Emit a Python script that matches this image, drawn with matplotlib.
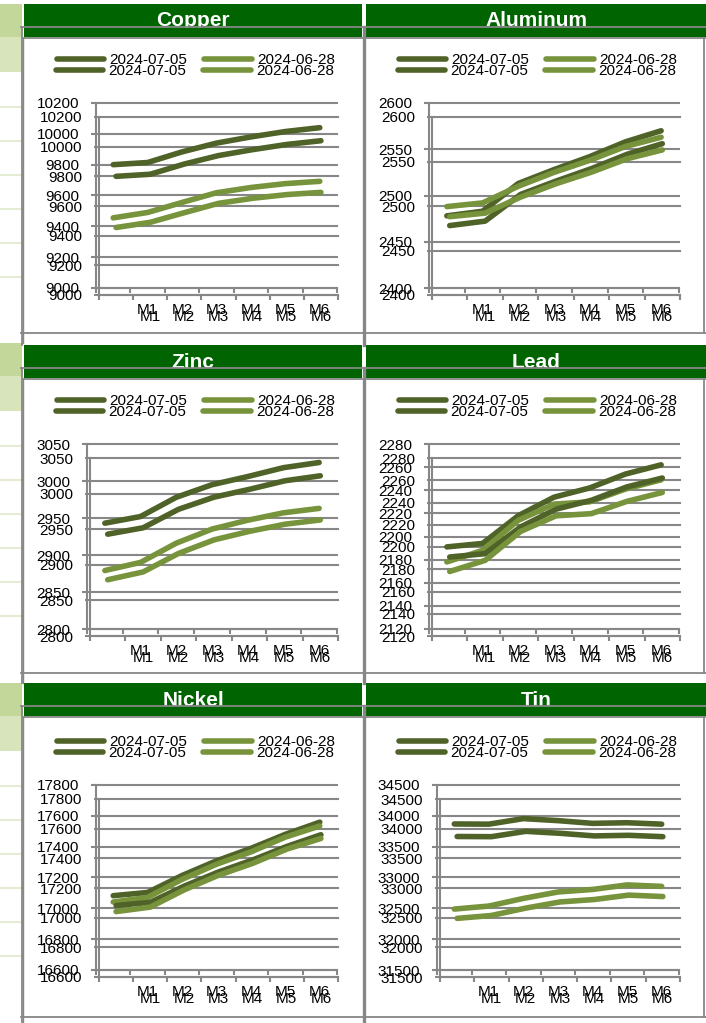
import matplotlib
matplotlib.use("Agg")
import matplotlib.pyplot as plt
from matplotlib.patches import Rectangle

plt.rcParams["font.family"] = ["Liberation Sans", "DejaVu Sans"]

W, H = 706, 1023

months = ["", "M1", "M2", "M3", "M4", "M5", "M6"]
series_names = ["2024-07-05", "2024-06-28"]

copper_0705 = [9800, 9814, 9883, 9940, 9980, 10015, 10040]
copper_0628 = [9455, 9490, 9555, 9618, 9652, 9677, 9692]
aluminum_0705 = [2478, 2483, 2513, 2528, 2542, 2558, 2570]
aluminum_0628 = [2488, 2492, 2510, 2525, 2538, 2553, 2563]
zinc_0705 = [2943, 2952, 2978, 2995, 3006, 3018, 3025]
zinc_0628 = [2879, 2890, 2916, 2935, 2947, 2957, 2963]
lead_0705 = [2191, 2194, 2218, 2234, 2242, 2254, 2262]
lead_0628 = [2178, 2188, 2214, 2228, 2230, 2241, 2249]
nickel_0705 = [17082, 17103, 17213, 17308, 17389, 17480, 17559]
nickel_0628 = [17041, 17071, 17188, 17286, 17366, 17462, 17534]
tin_0705 = [33868, 33865, 33955, 33922, 33878, 33888, 33865]
tin_0628 = [32488, 32537, 32661, 32765, 32806, 32880, 32856]

titles = ["Copper", "Aluminum", "Zinc", "Lead", "Nickel", "Tin"]
data_0705 = [copper_0705, aluminum_0705, zinc_0705, lead_0705, nickel_0705, tin_0705]
data_0628 = [copper_0628, aluminum_0628, zinc_0628, lead_0628, nickel_0628, tin_0628]
y_ranges = [(9000, 10200, 200), (2400, 2600, 50), (2800, 3050, 50),
            (2120, 2280, 20), (16600, 17800, 200), (31500, 34500, 500)]

DARK = "#4f6228"
LIGHT = "#77933c"
GRAY = "#878787"
HEAD = "#006400"

fig = plt.figure(figsize=(W / 100, H / 100), dpi=100)


def rect(x0, y0, x1, y1):
    return [x0 / W, 1 - y1 / H, (x1 - x0) / W, (y1 - y0) / H]


# spreadsheet background in pixel coords
bg = fig.add_axes([0, 0, 1, 1])
bg.set_xlim(0, W)
bg.set_ylim(H, 0)
bg.axis("off")
bg.set_zorder(0)

head_tops = [4, 345, 683]
row_bottoms = [333, 673, 1017]
cell_base = [0, 339, 679]

for i, h0 in enumerate(head_tops):
    b = cell_base[i]
    bg.add_patch(Rectangle((0, 4 + b), 22, 33, color="#c4d79b", lw=0))
    bg.add_patch(Rectangle((0, 37 + b), 22, 35, color="#d8e4bc", lw=0))
    for yy in [107, 141, 175, 209, 243, 277]:
        bg.plot([0, 22], [yy + b, yy + b], color="#e4ecd4", lw=1.5)

    # green header bars
    bg.add_patch(Rectangle((24, h0), 338, 33, color=HEAD, lw=0, zorder=1))
    bg.add_patch(Rectangle((366, h0), 340, 33, color=HEAD, lw=0, zorder=1))
    for k in range(2):
        t = titles[i * 2 + k]
        cx = 193 if k == 0 else 536
        bg.text(cx, h0 + 22.5, t, color="white", fontsize=15, fontweight="bold",
                ha="center", va="baseline", zorder=2)
    bg.add_patch(Rectangle((24, h0 + 24), 338, 9, color=HEAD, lw=0, zorder=3))
    bg.add_patch(Rectangle((366, h0 + 24), 340, 9, color=HEAD, lw=0, zorder=3))

    # chart frames
    bg.plot([21, W], [h0 + 23, h0 + 23], color=GRAY, lw=1.3, zorder=4)
    bg.plot([23, W], [h0 + 33.5, h0 + 33.5], color=GRAY, lw=1.3, zorder=4)
    nxt = head_tops[i + 1] if i < 2 else H
    bg.plot([21.5, 21.5], [h0 + 23, nxt], color=GRAY, lw=1.3, zorder=4)
    bg.plot([23.2, 23.2], [h0 + 33.5, row_bottoms[i] + 10], color=GRAY, lw=1.0, zorder=4)
    bg.plot([363.5, 363.5], [h0 + 23, nxt], color=GRAY, lw=2.4, zorder=4)
    bg.plot([703.5, 703.5], [h0 + 33.5, row_bottoms[i]], color=GRAY, lw=1.3, zorder=4)
    bg.plot([21, W], [row_bottoms[i], row_bottoms[i]], color=GRAY, lw=1.3, zorder=4)

row_off = [0, 341, 682]
axis_x = [96, 429, 87, 429, 96, 437]
panel_left = [21, 363]
right_end = [337, 679]

for p in range(6):
    row, col = p // 2, p % 2
    o = row_off[row]
    lo, hi, step = y_ranges[p]
    # two overlapping renderings of the same chart
    for r, (dx, dxe, top, bot, lgx, lgy) in enumerate([(0, 0, 103, 288, 36, 60),
                                                       (3, 1, 117, 295, 35, 71)]):
        rc = rect(axis_x[p] + dx, top + o, right_end[col] + dxe, bot + o)
        ax = fig.add_axes(rc)
        ax.set_zorder(1)
        ax.set_facecolor("none")
        ax.set_xlim(-0.5, 6.5)
        ax.set_ylim(lo, hi)
        ax.set_yticks(list(range(lo, hi + 1, step)))
        ax.set_xticks([i - 0.5 for i in range(8)])
        ax.set_xticklabels([])
        ax.set_xticks(list(range(7)), minor=True)
        ax.set_xticklabels(months, minor=True)
        ax.grid(axis="y", color=GRAY, lw=1.5)
        for gl in ax.get_ygridlines():
            gl.set_clip_on(False)
        for s in ["top", "right"]:
            ax.spines[s].set_visible(False)
        for s in ["left", "bottom"]:
            ax.spines[s].set_color(GRAY)
            ax.spines[s].set_linewidth(1.5)
        ax.tick_params(which="major", direction="out", length=3.6, width=1.5,
                       color=GRAY, labelsize=11)
        ax.tick_params(axis="y", pad=8.6)
        ax.tick_params(axis="x", which="minor", length=0, pad=11, labelsize=11)

        axl = fig.add_axes(rc, sharex=ax, sharey=ax)
        axl.set_zorder(2)
        axl.axis("off")
        l1, = axl.plot(range(7), data_0705[p], color=DARK, lw=4,
                       solid_capstyle="round", solid_joinstyle="round", clip_on=False)
        l2, = axl.plot(range(7), data_0628[p], color=LIGHT, lw=4,
                       solid_capstyle="round", solid_joinstyle="round", clip_on=False)
        lx = panel_left[col] + lgx
        axl.legend([l1, l2], series_names, loc="center left",
                   bbox_to_anchor=(lx / W, 1 - (lgy + o) / H),
                   bbox_transform=fig.transFigure, ncol=2, frameon=False,
                   borderpad=0, borderaxespad=0, handlelength=3.1,
                   handletextpad=0.35, columnspacing=1.1, fontsize=11)

fig.savefig("out.png", dpi=100)
